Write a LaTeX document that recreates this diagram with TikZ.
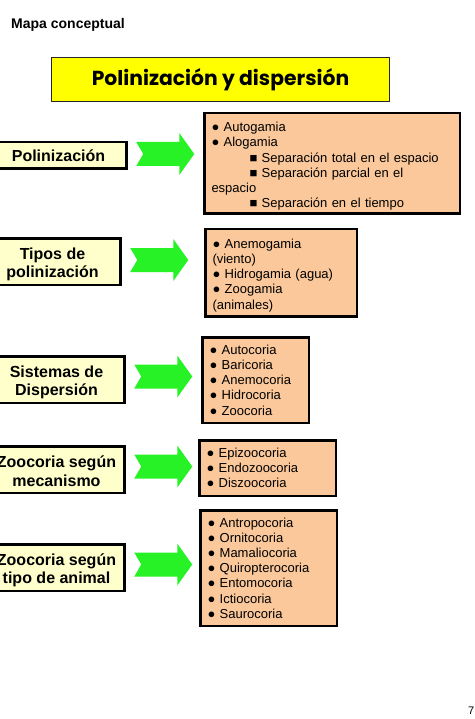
\documentclass[tikz,border=0pt]{standalone}
\usepackage{fontspec}
\setmainfont{Liberation Sans}
\newfontfamily\titlefont{Poppins}
\definecolor{titleyellow}{RGB}{255,255,0}
\definecolor{cream}{RGB}{255,255,204}
\definecolor{peach}{RGB}{250,200,154}
\definecolor{arrowgreen}{RGB}{38,242,38}
\tikzset{
  leftbox/.style={draw, line width=2.5pt, fill=cream, align=center, anchor=east,
    minimum width=136pt, inner sep=2pt, font=\bfseries\fontsize{16}{18.3}\selectfont},
  rightbox/.style={draw, line width=2.5pt, fill=peach, align=left, anchor=west,
    inner xsep=7pt, inner ysep=2pt, font=\fontsize{13}{15.2}\selectfont},
  greenarrow/.pic={\fill[arrowgreen] (0,-12) -- (43,-12) -- (43,-21) -- (58,0)
    -- (43,21) -- (43,12) -- (0,12) -- (7,0) -- cycle;}
}
\begin{document}
\begin{tikzpicture}[x=1pt,y=-1pt]
\useasboundingbox (0,0) rectangle (474,719);
\clip (0,0) rectangle (474,719);
\fill[white] (0,0) rectangle (474,719);
% heading
\node[anchor=base west, inner sep=0, font=\bfseries\fontsize{14}{16}\selectfont] (mapa) at (11,29) {Mapa conceptual};
\node[draw=black!85, line width=1.2pt, fill=titleyellow, minimum width=338pt, minimum height=44pt,
  font=\titlefont\bfseries\fontsize{20.3}{24}\selectfont] (titulo) at (220.5,79.5) {Polinización y dispersión};
% left column
\node[leftbox, minimum height=26.5pt] (pol) at (127.75,155.5) {Polinización};
\node[leftbox, minimum height=46.5pt] (tipos) at (121.75,261.5) {\rule{0pt}{18pt}Tipos de\\polinización};
\node[leftbox, minimum height=46.5pt] (sist) at (125.75,379.5) {\rule{0pt}{18pt}Sistemas de\\Dispersión};
\node[leftbox, minimum height=46.5pt] (meca) at (125.75,469.5) {\rule{0pt}{15pt}Zoocoria según\\mecanismo};
\node[leftbox, minimum height=46.5pt] (anim) at (125.75,567.5) {\rule{0pt}{18pt}Zoocoria según\\tipo de animal};
% right column
\node[rightbox, text width=241.5pt, minimum height=100.5pt] (polr) at (203.25,163.5)
  {\rule{0pt}{15pt}● Autogamia\\
   ● Alogamia\\
   \hspace*{38pt}■ Separación total en el espacio\\
   \hspace*{38pt}■ Separación parcial en el\\
   espacio\\
   \hspace*{38pt}■ Separación en el tiempo};
\node[rightbox, text width=137.5pt, minimum height=87.5pt] (tiposr) at (204.25,272.5)
  {\rule{0pt}{15pt}● Anemogamia\\(viento)\\● Hidrogamia (agua)\\● Zoogamia\\(animales)};
\node[rightbox, text width=92.5pt, minimum height=85.5pt] (sistr) at (201.25,380)
  {● Autocoria\\● Baricoria\\● Anemocoria\\● Hidrocoria\\● Zoocoria};
\node[rightbox, text width=122.5pt, minimum height=55.5pt] (mecar) at (198.25,468)
  {● Epizoocoria\\● Endozoocoria\\● Diszoocoria};
\node[rightbox, text width=122.5pt, minimum height=115.5pt] (animr) at (199.25,568)
  {● Antropocoria\\● Ornitocoria\\● Mamaliocoria\\● Quiropterocoria\\● Entomocoria\\● Ictiocoria\\● Saurocoria};
% arrows
\path (pol.east) ++(8.5,-1.5) pic {greenarrow};
\path (tipos.east) ++(8.5,-1.5) pic {greenarrow};
\path (sist.east) ++(8.5,-3) pic {greenarrow};
\path (meca.east) ++(8.5,-3) pic {greenarrow};
\path (anim.east) ++(8.5,-3) pic {greenarrow};
% page number
\node[anchor=base west, inner sep=0, font=\fontsize{11}{13}\selectfont] (pag) at (468,714) {7};
\end{tikzpicture}
\end{document}
